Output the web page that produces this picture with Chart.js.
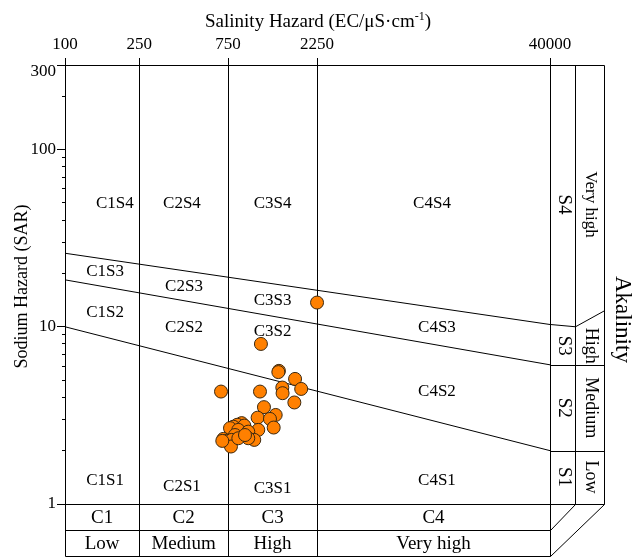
<!DOCTYPE html>
<html>
<head>
<meta charset="utf-8">
<script src="https://cdn.jsdelivr.net/npm/chart.js@4/dist/chart.umd.min.js"></script>
<style>
  html, body { margin: 0; padding: 0; background: #ffffff; }
  canvas { display: block; }
</style>
</head>
<body>
<canvas id="wilcox" width="638" height="558"></canvas>
<script>
// Samples: electrical conductivity (µS/cm) and sodium adsorption ratio
const sampleEC  = [2250, 1125, 1405, 1395, 1715, 1465, 1470, 1850, 687, 1112,
                   1700, 1168, 1350, 1080, 1258, 1317, 1089, 887, 840, 800,
                   916, 768, 851, 962, 1036, 962, 707, 737, 817, 784,
                   777, 698, 851, 924];
const sampleSAR = [13.7, 8.0, 5.64, 5.55, 5.08, 4.54, 4.22, 4.46, 4.31, 4.31,
                   3.74, 3.52, 3.18, 3.07, 3.02, 2.70, 2.62, 2.86, 2.80, 2.73,
                   2.77, 2.68, 2.62, 2.56, 2.30, 2.35, 2.33, 2.27, 2.45, 2.30,
                   2.11, 2.27, 2.35, 2.45];

// Salinity class limits (top axis) and SAR axis ticks
const ecTicks = [100, 250, 750, 2250, 40000];
const sarLabelTicks = [1, 10, 100, 300];
const sarMinorTicks = [2, 3, 4, 5, 6, 7, 8, 9, 20, 30, 40, 50, 60, 70, 80, 90, 200];

// Sodium hazard boundaries: SAR at the two ends of the EC range
const boundaryEC   = [100, 40000];
const boundaryS1S2 = [10, 2.0];
const boundaryS2S3 = [18.4, 6.1];
const boundaryS3S4 = [26, 10.3];

// Class names
const salinityClasses = ['C1', 'C2', 'C3', 'C4'];
const salinityLevels  = ['Low', 'Medium', 'High', 'Very high'];
const sodiumClasses   = ['S1', 'S2', 'S3', 'S4'];
const sodiumLevels    = ['Low', 'Medium', 'High', 'Very high'];
const zoneNames = ['C1S4', 'C2S4', 'C3S4', 'C4S4',
                   'C1S3', 'C2S3', 'C3S3', 'C4S3',
                   'C1S2', 'C2S2', 'C3S2', 'C4S2',
                   'C1S1', 'C2S1', 'C3S1', 'C4S1'];

// Where each zone name sits, in (EC, SAR) units
const zoneAnchors = [
  [185, 49.5], [424, 49.5], [1300, 49.5], [9310, 49.5],
  [164, 20.5], [435, 16.8], [1300, 14.0], [9900, 9.87],
  [164, 12.0], [435, 9.87], [1300, 9.37], [9900, 4.29],
  [164, 1.35], [424, 1.26], [1300, 1.23], [9900, 1.35]
];
// SAR level at which the right-hand class names are centred (S1..S4)
const sodiumLabelSAR = [1.42, 3.49, 7.81, 49];

const SERIF = '"Liberation Serif", "Times New Roman", serif';
const INK = '#000000';

function toPoints(xs, ys) {
  return xs.map((x, i) => ({ x: x, y: ys[i] }));
}

function boundaryDataset(values) {
  return {
    type: 'line',
    data: toPoints(boundaryEC, values),
    borderColor: INK,
    borderWidth: 1,
    pointRadius: 0,
    fill: false,
    tension: 0,
    order: 2
  };
}

// Frame, class tables and annotations around the plot
const diagramFrame = {
  id: 'diagramFrame',
  afterDraw(chart) {
    const ctx = chart.ctx;
    const xs = chart.scales.x;
    const ys = chart.scales.y;
    const ca = chart.chartArea;
    const rowH = 26;
    const sCol = ca.right + 25;
    const aCol = ca.right + 54;
    const bottom1 = ca.bottom + rowH;
    const bottom2 = ca.bottom + 2 * rowH;

    const line = (x1, y1, x2, y2) => {
      ctx.beginPath();
      ctx.moveTo(x1, y1);
      ctx.lineTo(x2, y2);
      ctx.stroke();
    };
    const crisp = v => Math.round(v) + 0.5;

    ctx.save();
    ctx.strokeStyle = INK;
    ctx.lineWidth = 1;

    const L = crisp(ca.left), R = crisp(ca.right), T = crisp(ca.top), B = crisp(ca.bottom);
    const S = crisp(sCol), A = crisp(aCol);

    // outer frame of the plot and the side columns
    line(R, T, A, T);
    line(L, B, A, B);
    line(R, T, R, crisp(bottom2));
    line(S, T, S, B);
    line(A, T, A, B);

    // salinity class table under the plot
    line(L, B, L, crisp(bottom2));
    ecTicks.slice(1, -1).forEach(v => {
      const px = crisp(xs.getPixelForValue(v));
      line(px, B, px, crisp(bottom2));
    });
    line(L, crisp(bottom1), R, crisp(bottom1));
    line(L, crisp(bottom2), R, crisp(bottom2));
    // receding edges
    line(R, crisp(bottom1), S, B);
    line(R, crisp(bottom2), A, B);

    // sodium class rows in the side columns
    const yS12 = crisp(ys.getPixelForValue(boundaryS1S2[1]));
    const yS23 = crisp(ys.getPixelForValue(boundaryS2S3[1]));
    const yS34 = ys.getPixelForValue(boundaryS3S4[1]);
    const yS34b = ys.getPixelForValue(10);
    line(R, yS12, A, yS12);
    line(R, yS23, A, yS23);
    line(R, yS34, S, yS34b);
    line(S, yS34b, A, yS34b - 16);

    // text
    ctx.fillStyle = INK;
    ctx.textAlign = 'center';
    ctx.textBaseline = 'middle';

    ctx.font = '17px ' + SERIF;
    zoneNames.forEach((name, i) => {
      const a = zoneAnchors[i];
      ctx.fillText(name, xs.getPixelForValue(a[0]), ys.getPixelForValue(a[1]));
    });

    ctx.font = '19px ' + SERIF;
    for (let i = 0; i < salinityClasses.length; i++) {
      const x1 = xs.getPixelForValue(ecTicks[i]);
      const x2 = xs.getPixelForValue(ecTicks[i + 1]);
      const cx = (x1 + x2) / 2;
      ctx.fillText(salinityClasses[i], cx, ca.bottom + rowH / 2 + 1);
      ctx.fillText(salinityLevels[i], cx, ca.bottom + rowH * 1.5 + 1);
    }

    const vText = (txt, x, y, font) => {
      ctx.save();
      ctx.font = font;
      ctx.translate(x, y);
      ctx.rotate(Math.PI / 2);
      ctx.fillText(txt, 0, 0);
      ctx.restore();
    };
    for (let i = 0; i < sodiumClasses.length; i++) {
      const cy = ys.getPixelForValue(sodiumLabelSAR[i]);
      vText(sodiumClasses[i], (ca.right + sCol) / 2 + 1, cy, '19px ' + SERIF);
      vText(sodiumLevels[i], (sCol + aCol) / 2 + 1, cy, (i === 3 ? '17px ' : '18px ') + SERIF);
    }
    vText('Akalinity', aCol + 18, ys.getPixelForValue(11), '23px ' + SERIF);

    // axis titles
    ctx.save();
    ctx.translate(22, (ca.top + ca.bottom) / 2 + 2);
    ctx.rotate(-Math.PI / 2);
    ctx.font = '18px ' + SERIF;
    ctx.fillText('Sodium Hazard (SAR)', 0, 0);
    ctx.restore();

    const main = 'Salinity Hazard (EC/μS·cm';
    const sup = '-1';
    const close = ')';
    ctx.textAlign = 'left';
    ctx.textBaseline = 'alphabetic';
    ctx.font = '19px ' + SERIF;
    const wMain = ctx.measureText(main).width;
    const wClose = ctx.measureText(close).width;
    ctx.font = '12px ' + SERIF;
    const wSup = ctx.measureText(sup).width;
    const total = wMain + wSup + wClose;
    let tx = 318 - total / 2;
    const base = 27;
    ctx.font = '19px ' + SERIF;
    ctx.fillText(main, tx, base);
    tx += wMain;
    ctx.font = '12px ' + SERIF;
    ctx.fillText(sup, tx, base - 7);
    tx += wSup;
    ctx.font = '19px ' + SERIF;
    ctx.fillText(close, tx, base);

    ctx.restore();
  }
};

const topSAR = sarLabelTicks[sarLabelTicks.length - 1];

new Chart(document.getElementById('wilcox'), {
  type: 'scatter',
  data: {
    datasets: [
      {
        type: 'scatter',
        data: toPoints(sampleEC, sampleSAR),
        backgroundColor: '#ff8000',
        borderColor: '#3a2810',
        borderWidth: 1,
        pointRadius: 6.5,
        order: 1
      },
      boundaryDataset(boundaryS1S2),
      boundaryDataset(boundaryS2S3),
      boundaryDataset(boundaryS3S4)
    ]
  },
  options: {
    responsive: false,
    animation: false,
    devicePixelRatio: 1,
    layout: { padding: { left: 0, top: 0, right: 88, bottom: 54 } },
    plugins: {
      legend: { display: false },
      tooltip: { enabled: false }
    },
    scales: {
      x: {
        type: 'logarithmic',
        position: 'top',
        min: 100,
        max: 40000,
        afterBuildTicks: scale => { scale.ticks = ecTicks.map(v => ({ value: v })); },
        afterFit: scale => { scale.height = 65; },
        ticks: {
          autoSkip: false,
          maxRotation: 0,
          color: INK,
          padding: 3,
          font: { family: SERIF, size: 17 },
          callback: v => String(v)
        },
        grid: { color: INK, lineWidth: 1, tickLength: 7, drawOnChartArea: true },
        border: { color: INK, width: 1 }
      },
      y: {
        type: 'logarithmic',
        position: 'left',
        weight: 1,
        min: 1,
        max: topSAR,
        afterBuildTicks: scale => { scale.ticks = sarLabelTicks.map(v => ({ value: v })); },
        afterFit: scale => { scale.width = 65; },
        ticks: {
          autoSkip: false,
          color: INK,
          padding: 1,
          // the top label sits just below the corner
          font: c => ({ family: SERIF, size: 17,
                        lineHeight: (c.tick && c.tick.value === topSAR) ? 0.82 : 1.2 }),
          callback: v => (v === topSAR ? ['', String(v)] : String(v))
        },
        grid: { color: INK, lineWidth: 1, tickLength: 8, drawOnChartArea: false },
        border: { color: INK, width: 1 }
      },
      yMinor: {
        type: 'logarithmic',
        position: 'left',
        weight: 0,
        min: 1,
        max: topSAR,
        afterBuildTicks: scale => { scale.ticks = sarMinorTicks.map(v => ({ value: v })); },
        afterFit: scale => { scale.width = 0; },
        ticks: { display: false },
        grid: { color: INK, lineWidth: 1, tickLength: 3, drawOnChartArea: false },
        border: { display: false }
      }
    }
  },
  plugins: [diagramFrame]
});
</script>
</body>
</html>
